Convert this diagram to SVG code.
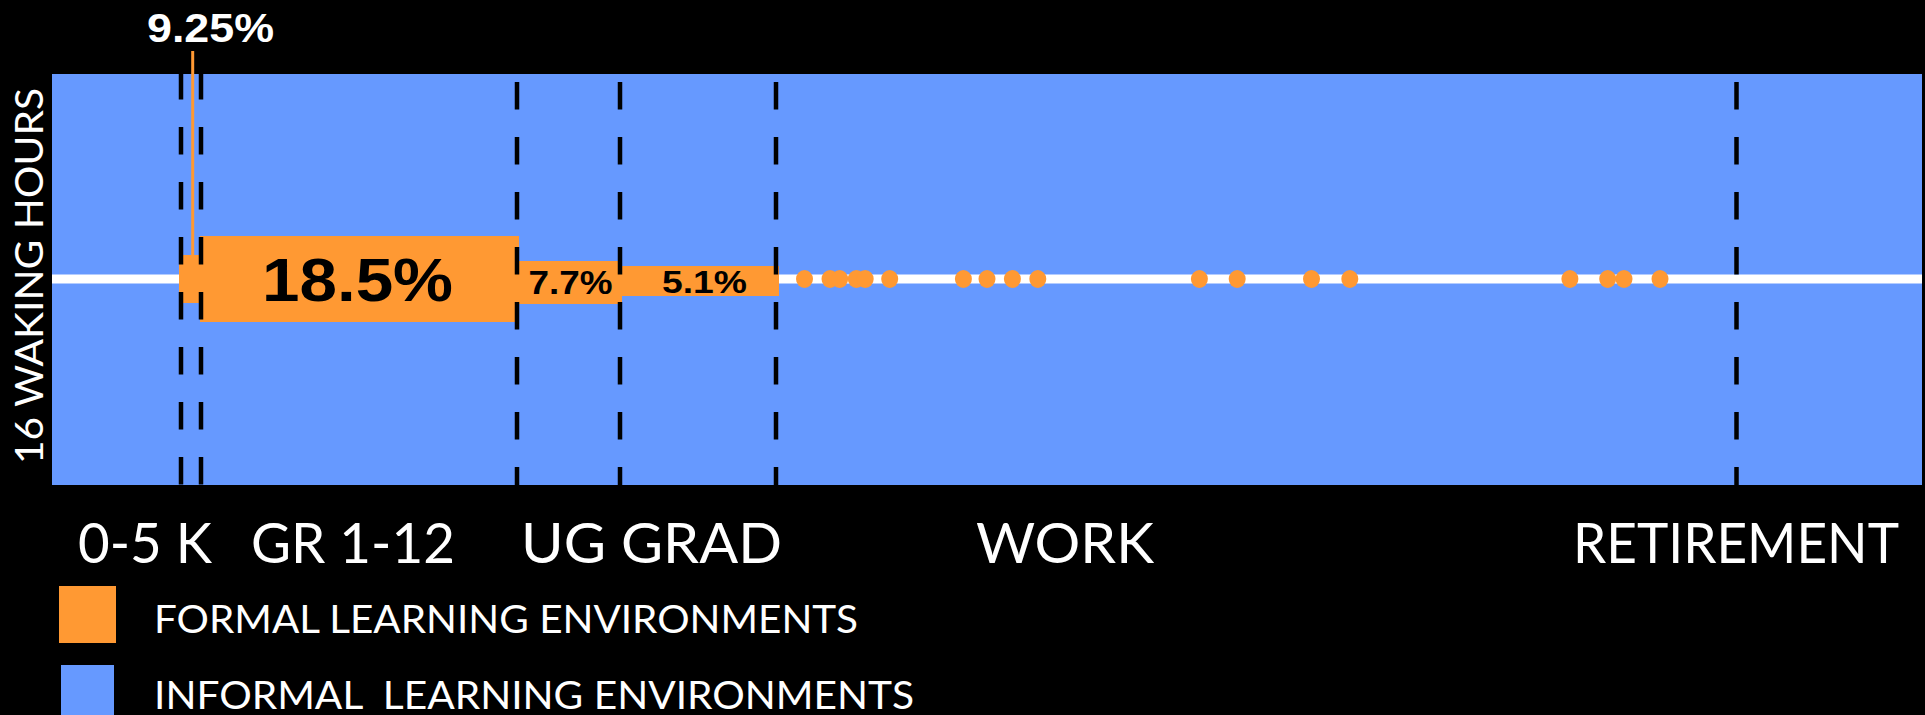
<svg xmlns="http://www.w3.org/2000/svg" width="1925" height="715" viewBox="0 0 1925 715">
  <style>
    .bg { fill: #000000; }
    .informal { fill: #6699FF; }
    .formal { fill: #FF9933; }
    .axis { stroke: #FFFFFF; stroke-width: 9; }
    .divider { stroke: #000000; stroke-width: 4.5; stroke-dasharray: 27.5 27.5; fill: none; }
    .dot { fill: #FF9933; }
    .lbl { font-family: Lato, "Open Sans", "Liberation Sans", sans-serif; fill: #FFFFFF; font-size: 56px; }
    .leg { font-family: Lato, "Open Sans", "Liberation Sans", sans-serif; fill: #FFFFFF; font-size: 39px; }
    .pct { font-family: "Liberation Sans", Arial, sans-serif; font-weight: bold; fill: #000000; }
  </style>
  <rect class="bg" x="0" y="0" width="1925" height="715"/>

  <g id="field">
    <rect class="informal" x="52" y="74" width="1870" height="411"/>
    <line class="axis" x1="52" y1="279" x2="1922" y2="279"/>
  </g>

  <g id="formal-blocks">
    <rect id="seg-0-5k" class="formal" x="179" y="255" width="22" height="48"/>
    <rect id="seg-gr" class="formal" x="200" y="236" width="319" height="86"/>
    <rect id="seg-ug" class="formal" x="519" y="261" width="103" height="43"/>
    <rect id="seg-grad" class="formal" x="622" y="266" width="157" height="30"/>
    <line x1="192.7" y1="51" x2="192.7" y2="256" stroke="#FF9933" stroke-width="3"/>
  </g>

  <g id="work-dots">
    <ellipse class="dot" cx="804.5" cy="279" rx="8.5" ry="9"/>
    <ellipse class="dot" cx="830" cy="279" rx="8.5" ry="9"/>
    <ellipse class="dot" cx="839.7" cy="279" rx="8.5" ry="9"/>
    <ellipse class="dot" cx="856.3" cy="279" rx="8.5" ry="9"/>
    <ellipse class="dot" cx="865.2" cy="279" rx="8.5" ry="9"/>
    <ellipse class="dot" cx="889.7" cy="279" rx="8.5" ry="9"/>
    <ellipse class="dot" cx="963.4" cy="279" rx="8.5" ry="9"/>
    <ellipse class="dot" cx="987" cy="279" rx="8.5" ry="9"/>
    <ellipse class="dot" cx="1012.4" cy="279" rx="8.5" ry="9"/>
    <ellipse class="dot" cx="1037.8" cy="279" rx="8.5" ry="9"/>
    <ellipse class="dot" cx="1199.4" cy="279" rx="8.5" ry="9"/>
    <ellipse class="dot" cx="1237.2" cy="279" rx="8.5" ry="9"/>
    <ellipse class="dot" cx="1311.5" cy="279" rx="8.5" ry="9"/>
    <ellipse class="dot" cx="1349.8" cy="279" rx="8.5" ry="9"/>
    <ellipse class="dot" cx="1569.9" cy="279" rx="8.5" ry="9"/>
    <ellipse class="dot" cx="1607.7" cy="279" rx="8.5" ry="9"/>
    <ellipse class="dot" cx="1624" cy="279" rx="8.5" ry="9"/>
    <ellipse class="dot" cx="1660" cy="279" rx="8.5" ry="9"/>
  </g>

  <g id="dividers">
    <line class="divider" x1="181" y1="72" x2="181" y2="485"/>
    <line class="divider" x1="201" y1="72" x2="201" y2="485"/>
    <line class="divider" x1="517" y1="82" x2="517" y2="485"/>
    <line class="divider" x1="620" y1="82" x2="620" y2="485"/>
    <line class="divider" x1="776" y1="82" x2="776" y2="485"/>
    <line class="divider" x1="1736.5" y1="82" x2="1736.5" y2="485"/>
  </g>

  <g id="percentages">
    <text class="pct" x="147" y="42" font-size="40" fill="#FFFFFF" style="fill:#FFFFFF" textLength="127" lengthAdjust="spacingAndGlyphs">9.25%</text>
    <text class="pct" x="262" y="301" font-size="61" textLength="191" lengthAdjust="spacingAndGlyphs">18.5%</text>
    <text class="pct" x="528.5" y="294" font-size="33" textLength="84" lengthAdjust="spacingAndGlyphs">7.7%</text>
    <text class="pct" x="662" y="293" font-size="31" textLength="85" lengthAdjust="spacingAndGlyphs">5.1%</text>
  </g>

  <g id="axis-label">
    <text class="leg" transform="translate(43,464) rotate(-90)" textLength="376" lengthAdjust="spacingAndGlyphs">16 WAKING HOURS</text>
  </g>

  <g id="stage-labels">
    <text class="lbl" x="78" y="563" textLength="134" lengthAdjust="spacingAndGlyphs">0-5 K</text>
    <text class="lbl" x="251" y="563" textLength="204" lengthAdjust="spacingAndGlyphs">GR 1-12</text>
    <text class="lbl" x="521" y="563" textLength="85" lengthAdjust="spacingAndGlyphs">UG</text>
    <text class="lbl" x="621" y="563" textLength="161" lengthAdjust="spacingAndGlyphs">GRAD</text>
    <text class="lbl" x="976" y="563" textLength="178" lengthAdjust="spacingAndGlyphs">WORK</text>
    <text class="lbl" x="1573" y="563" textLength="326" lengthAdjust="spacingAndGlyphs">RETIREMENT</text>
  </g>

  <g id="legend">
    <g id="legend-formal">
      <rect class="formal" x="59" y="586" width="57" height="57"/>
      <text class="leg" x="154" y="633" textLength="704" lengthAdjust="spacingAndGlyphs">FORMAL LEARNING ENVIRONMENTS</text>
    </g>
    <g id="legend-informal">
      <rect class="informal" x="61" y="665" width="53" height="57"/>
      <text class="leg" x="154" y="709" xml:space="preserve" textLength="760" lengthAdjust="spacingAndGlyphs">INFORMAL  LEARNING ENVIRONMENTS</text>
    </g>
  </g>
</svg>
